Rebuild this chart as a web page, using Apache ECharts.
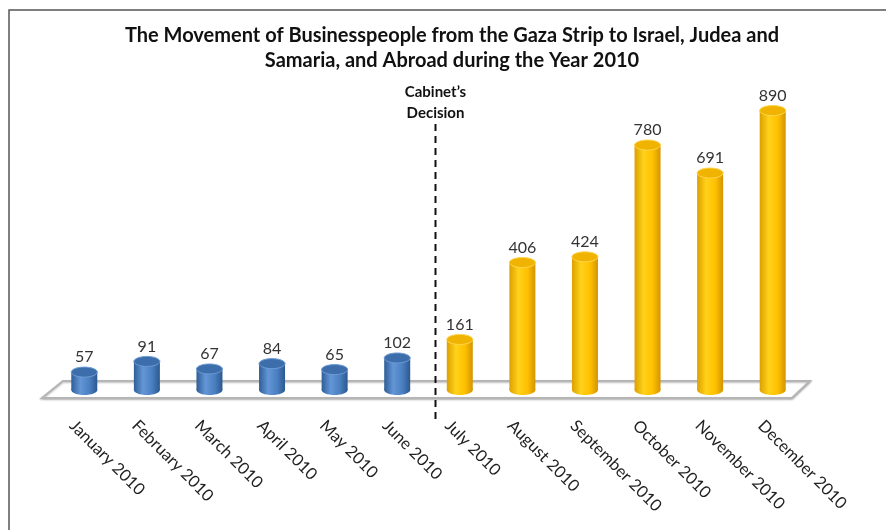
<!DOCTYPE html>
<html>
<head>
<meta charset="utf-8">
<script src="https://cdn.jsdelivr.net/npm/echarts@6/dist/echarts.min.js"></script>
<style>
  html, body { margin: 0; padding: 0; background: #fff; }
  #chart { width: 886px; height: 530px; }
</style>
</head>
<body>
<div id="chart"></div>
<script>
const months = ['January 2010', 'February 2010', 'March 2010', 'April 2010', 'May 2010', 'June 2010',
  'July 2010', 'August 2010', 'September 2010', 'October 2010', 'November 2010', 'December 2010']
const businesspeople = [57, 91, 67, 84, 65, 102, 161, 406, 424, 780, 691, 890]
const decisionIndex = 6 // first month after the Cabinet's decision

const FONT = 'Lato, "Open Sans", sans-serif'

const blueBody = new echarts.graphic.LinearGradient(0, 0, 1, 0, [
  { offset: 0, color: '#2f5e98' },
  { offset: 0.35, color: '#6396d6' },
  { offset: 0.7, color: '#4a7fc0' },
  { offset: 1, color: '#2c5890' },
])
const goldBody = new echarts.graphic.LinearGradient(0, 0, 1, 0, [
  { offset: 0, color: '#dca000' },
  { offset: 0.35, color: '#ffd21a' },
  { offset: 0.7, color: '#ffc000' },
  { offset: 1, color: '#d49400' },
])

function renderCylinder(params, api) {
  const i = api.value(0)
  const v = api.value(1)
  const top = api.coord([i, v])
  const base = api.coord([i, 0])
  const rx = 13
  const ry = 5
  const after = i >= decisionIndex
  const body = after ? goldBody : blueBody
  const label = months[i]
  return {
    type: 'group',
    children: [
      { type: 'ellipse', shape: { cx: base[0], cy: base[1], rx, ry }, style: { fill: body } },
      { type: 'rect', shape: { x: base[0] - rx, y: top[1], width: rx * 2, height: base[1] - top[1] }, style: { fill: body } },
      {
        type: 'ellipse',
        shape: { cx: top[0], cy: top[1], rx, ry },
        style: { fill: after ? '#f0b300' : '#3c6eab', stroke: after ? '#ffd54d' : '#6e9bd4', lineWidth: 1 },
      },
      {
        type: 'text',
        x: top[0], y: top[1] - 7,
        style: { text: String(v), textAlign: 'center', textVerticalAlign: 'bottom', fill: '#333', font: '16px ' + FONT },
      },
      {
        type: 'text',
        x: base[0] - 12, y: base[1] + 33,
        rotation: -Math.PI / 4,
        style: { text: label, textAlign: 'left', textVerticalAlign: 'middle', fill: '#222', font: '16.5px ' + FONT },
      },
    ],
  }
}

const chart = echarts.init(document.getElementById('chart'))

const option = {
  animation: false,
  backgroundColor: '#fff',
  title: {
    text: 'The Movement of Businesspeople from the Gaza Strip to Israel, Judea and\nSamaria, and Abroad during the Year 2010',
    left: 452,
    top: 23,
    padding: 0,
    textAlign: 'center',
    textStyle: { fontFamily: FONT, fontSize: 20, fontWeight: 'bold', color: '#111', lineHeight: 25 },
  },
  grid: { left: 53, width: 751, top: 76, height: 314 },
  xAxis: {
    type: 'category',
    data: months,
    axisLine: { show: false },
    axisTick: { show: false },
    axisLabel: { show: false },
  },
  yAxis: {
    type: 'value',
    min: 0,
    max: 1000,
    show: false,
    splitLine: { show: false },
  },
  series: [
    {
      type: 'custom',
      renderItem: renderCylinder,
      data: businesspeople.map((v, i) => [i, v]),
      z: 5,
    },
  ],
}

chart.setOption(option)

// floor, decision marker and outer frame placed from the axis scales
const x0 = chart.convertToPixel({ xAxisIndex: 0 }, months[0]) - 31.3
const x1 = chart.convertToPixel({ xAxisIndex: 0 }, months[11]) + 31.3
const yBase = chart.convertToPixel({ yAxisIndex: 0 }, 0)
const xJun = chart.convertToPixel({ xAxisIndex: 0 }, months[decisionIndex - 1])
const xJul = chart.convertToPixel({ xAxisIndex: 0 }, months[decisionIndex])
const xDecision = (xJun + xJul) / 2 + 7

chart.setOption({
  graphic: [
    {
      type: 'rect',
      shape: { x: 9, y: 10, width: 900, height: 540 },
      style: { fill: 'none', stroke: '#555', lineWidth: 1.5 },
      z: 0,
    },
    {
      type: 'polygon',
      shape: { points: [[x0 + 10, yBase - 9], [x1 + 6, yBase - 9], [x1 - 12, yBase + 8], [x0 - 11, yBase + 8]] },
      style: { fill: '#fff', stroke: '#b5b5b5', lineWidth: 2, shadowColor: 'rgba(0,0,0,0.25)', shadowBlur: 2, shadowOffsetY: 1 },
      z: 1,
    },
    {
      type: 'line',
      shape: { x1: xDecision, y1: 124, x2: xDecision, y2: 422 },
      style: { stroke: '#111', lineWidth: 2, lineDash: [7, 5] },
      z: 6,
    },
    {
      type: 'text',
      x: xDecision, y: 82,
      style: {
        text: 'Cabinet\u2019s\nDecision', textAlign: 'center', textVerticalAlign: 'top',
        font: 'bold 15px ' + FONT, lineHeight: 21, fill: '#111',
      },
      z: 6,
    },
  ],
})
</script>
</body>
</html>
